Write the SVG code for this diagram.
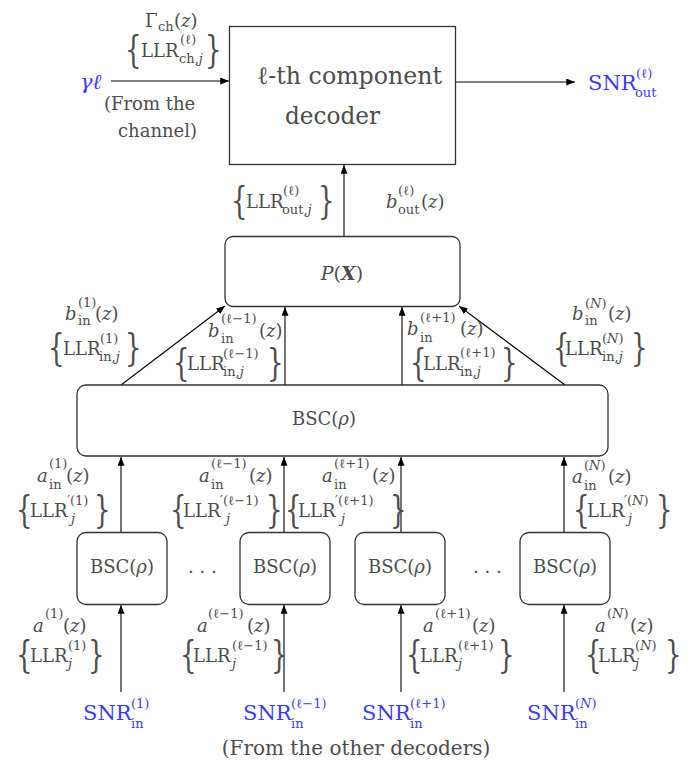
<svg xmlns="http://www.w3.org/2000/svg" width="695" height="764" viewBox="0 0 695 764" font-family="'DejaVu Serif', serif">
<style>
.m{font-family:'DejaVu Serif',serif;fill:#4d4d4d;font-size:18px}
.s{font-size:13px}
.it{font-style:italic}
.bl{fill:#3b3bf8}
.br{font-size:26px}
.box{fill:#fff;stroke:#333;stroke-width:1.3}
.ln{stroke:#000;stroke-width:1.1;fill:none;marker-end:url(#ah)}
</style>
<defs>
<marker id="ah" viewBox="0 0 10 8" refX="10" refY="4" markerUnits="userSpaceOnUse" markerWidth="9" markerHeight="7" orient="auto">
<path d="M0,0 L10,4 L0,8 z" fill="#000"/>
</marker>
</defs>
<rect width="695" height="764" fill="#fff"/>

<g id="connectors">
<line class="ln" x1="111" y1="81" x2="229" y2="81"/>
<line class="ln" x1="456" y1="82" x2="575" y2="82"/>
<line class="ln" x1="344" y1="236" x2="344" y2="165"/>
<line class="ln" x1="121" y1="385" x2="225" y2="306"/>
<line class="ln" x1="285" y1="385" x2="285" y2="307"/>
<line class="ln" x1="402" y1="385" x2="402" y2="307"/>
<line class="ln" x1="565" y1="385" x2="459" y2="306"/>
<line class="ln" x1="121" y1="532" x2="121" y2="457"/>
<line class="ln" x1="284" y1="532" x2="284" y2="457"/>
<line class="ln" x1="401" y1="532" x2="401" y2="457"/>
<line class="ln" x1="564" y1="532" x2="564" y2="457"/>
<line class="ln" x1="121" y1="692" x2="121" y2="605"/>
<line class="ln" x1="284" y1="692" x2="284" y2="605"/>
<line class="ln" x1="401" y1="692" x2="401" y2="605"/>
<line class="ln" x1="564" y1="692" x2="564" y2="605"/>
</g>

<g id="decoder">
<rect class="box" x="229.5" y="26.5" width="226" height="138"/>
<text class="m" x="257" y="84" textLength="185" lengthAdjust="spacingAndGlyphs" style="font-size:25px">ℓ-th component</text>
<text class="m" x="285" y="124" textLength="95" lengthAdjust="spacingAndGlyphs" style="font-size:25px">decoder</text>
</g>

<g id="px">
<rect class="box" x="225" y="236.5" width="235" height="70" rx="8"/>
<text class="m" x="342" y="280" text-anchor="middle" style="font-size:19px"><tspan class="it">P</tspan>(<tspan style="font-style:italic;font-weight:bold">X</tspan>)</text>
</g>

<g id="bsc-main">
<rect class="box" x="77" y="385" width="531" height="71" rx="9"/>
<text class="m" x="292" y="425">BSC(<tspan class="it">ρ</tspan>)</text>
</g>

<g id="bsc-1">
<rect class="box" x="77" y="532.5" width="90" height="72" rx="9"/>
<text class="m" x="122" y="573" text-anchor="middle">BSC(<tspan class="it">ρ</tspan>)</text>
</g>
<g id="bsc-2">
<rect class="box" x="240" y="532.5" width="90" height="72" rx="9"/>
<text class="m" x="285" y="573" text-anchor="middle">BSC(<tspan class="it">ρ</tspan>)</text>
</g>
<g id="bsc-3">
<rect class="box" x="355" y="532.5" width="90" height="72" rx="9"/>
<text class="m" x="400" y="573" text-anchor="middle">BSC(<tspan class="it">ρ</tspan>)</text>
</g>
<g id="bsc-4">
<rect class="box" x="520" y="532.5" width="90" height="72" rx="9"/>
<text class="m" x="565" y="573" text-anchor="middle">BSC(<tspan class="it">ρ</tspan>)</text>
</g>

<g id="dots">
<text class="m" x="188" y="573">. . .</text>
<text class="m" x="473" y="573">. . .</text>
</g>

<g id="labels">
<text class="m" x="145" y="27">Γ</text>
<text class="m s" x="158" y="31">ch</text>
<text class="m" x="174" y="27">(<tspan class="it">z</tspan>)</text>
<text class="m br" transform="translate(125,61.5) scale(1,1.4)">{</text>
<text class="m" x="141" y="57">LLR</text>
<text class="m s" x="180" y="44">(ℓ)</text>
<text class="m s" x="179" y="63">ch,<tspan class="it">j</tspan></text>
<text class="m br" transform="translate(205,61.5) scale(1,1.4)">}</text>
<text class="m it bl" x="80" y="89" style="font-size:21px">γℓ</text>
<text class="m" x="104" y="110">(From the</text>
<text class="m" x="118" y="137">channel)</text>

<text class="m bl" x="588" y="90" style="font-size:21px">SNR</text>
<text class="m s bl" x="636" y="78">(ℓ)</text>
<text class="m s bl" x="635" y="97">out</text>

<text class="m br" transform="translate(231,212.5) scale(1,1.4)">{</text>
<text class="m" x="246" y="208">LLR</text>
<text class="m s" x="283" y="195">(ℓ)</text>
<text class="m s" x="282" y="214">out,<tspan class="it">j</tspan></text>
<text class="m br" transform="translate(318,212.5) scale(1,1.4)">}</text>
<text class="m it" x="386" y="208">b</text>
<text class="m s" x="398" y="195">(ℓ)</text>
<text class="m s" x="398" y="214">out</text>
<text class="m" x="421" y="208">(<tspan class="it">z</tspan>)</text>

<text class="m it" x="65" y="320">b</text>
<text class="m s" x="78" y="307">(1)</text>
<text class="m s" x="78" y="325">in</text>
<text class="m" x="95" y="320">(<tspan class="it">z</tspan>)</text>
<text class="m br" transform="translate(48,359.5) scale(1,1.4)">{</text>
<text class="m" x="63" y="355">LLR</text>
<text class="m s" x="100" y="343">(1)</text>
<text class="m s" x="99" y="361">in,<tspan class="it">j</tspan></text>
<text class="m br" transform="translate(125,359.5) scale(1,1.4)">}</text>

<text class="m it" x="208" y="337">b</text>
<text class="m s" x="221" y="323">(ℓ−1)</text>
<text class="m s" x="221" y="343">in</text>
<text class="m" x="259" y="337">(<tspan class="it">z</tspan>)</text>
<text class="m br" transform="translate(173,374.5) scale(1,1.4)">{</text>
<text class="m" x="187" y="370">LLR</text>
<text class="m s" x="223" y="358">(ℓ−1)</text>
<text class="m s" x="223" y="376">in,<tspan class="it">j</tspan></text>
<text class="m br" transform="translate(267,374.5) scale(1,1.4)">}</text>

<text class="m it" x="407" y="335">b</text>
<text class="m s" x="420" y="322">(ℓ+1)</text>
<text class="m s" x="420" y="342">in</text>
<text class="m" x="460" y="335">(<tspan class="it">z</tspan>)</text>
<text class="m br" transform="translate(410,374.5) scale(1,1.4)">{</text>
<text class="m" x="423" y="370">LLR</text>
<text class="m s" x="460" y="357">(ℓ+1)</text>
<text class="m s" x="460" y="376">in,<tspan class="it">j</tspan></text>
<text class="m br" transform="translate(501,374.5) scale(1,1.4)">}</text>

<text class="m it" x="572" y="320">b</text>
<text class="m s" x="585" y="308">(<tspan class="it">N</tspan>)</text>
<text class="m s" x="585" y="325">in</text>
<text class="m" x="608" y="320">(<tspan class="it">z</tspan>)</text>
<text class="m br" transform="translate(553,359.5) scale(1,1.4)">{</text>
<text class="m" x="565" y="355">LLR</text>
<text class="m s" x="602" y="343">(<tspan class="it">N</tspan>)</text>
<text class="m s" x="602" y="361">in,<tspan class="it">j</tspan></text>
<text class="m br" transform="translate(631,359.5) scale(1,1.4)">}</text>

<text class="m it" x="37" y="482">a</text>
<text class="m s" x="49" y="468">(1)</text>
<text class="m s" x="49" y="489">in</text>
<text class="m" x="66" y="482">(<tspan class="it">z</tspan>)</text>
<text class="m br" transform="translate(16,521.5) scale(1,1.4)">{</text>
<text class="m" x="30" y="517">LLR</text>
<text class="m s" x="67" y="505">′(1)</text>
<text class="m s it" x="71" y="523">j</text>
<text class="m br" transform="translate(94,521.5) scale(1,1.4)">}</text>

<text class="m it" x="199" y="482">a</text>
<text class="m s" x="211" y="468">(ℓ−1)</text>
<text class="m s" x="211" y="489">in</text>
<text class="m" x="249" y="482">(<tspan class="it">z</tspan>)</text>
<text class="m br" transform="translate(170,521.5) scale(1,1.4)">{</text>
<text class="m" x="183" y="517">LLR</text>
<text class="m s" x="220" y="505">′(ℓ−1)</text>
<text class="m s it" x="226" y="523">j</text>
<text class="m br" transform="translate(266,521.5) scale(1,1.4)">}</text>

<text class="m it" x="322" y="482">a</text>
<text class="m s" x="334" y="468">(ℓ+1)</text>
<text class="m s" x="334" y="489">in</text>
<text class="m" x="372" y="482">(<tspan class="it">z</tspan>)</text>
<text class="m br" transform="translate(285,521.5) scale(1,1.4)">{</text>
<text class="m" x="298" y="517">LLR</text>
<text class="m s" x="335" y="505">′(ℓ+1)</text>
<text class="m s it" x="341" y="523">j</text>
<text class="m br" transform="translate(390,521.5) scale(1,1.4)">}</text>

<text class="m it" x="572" y="483">a</text>
<text class="m s" x="584" y="470">(<tspan class="it">N</tspan>)</text>
<text class="m s" x="584" y="490">in</text>
<text class="m" x="608" y="483">(<tspan class="it">z</tspan>)</text>
<text class="m br" transform="translate(573,521.5) scale(1,1.4)">{</text>
<text class="m" x="587" y="517">LLR</text>
<text class="m s" x="624" y="505">′(<tspan class="it">N</tspan>)</text>
<text class="m s it" x="628" y="523">j</text>
<text class="m br" transform="translate(656,521.5) scale(1,1.4)">}</text>

<text class="m it" x="33" y="632">a</text>
<text class="m s" x="45" y="618">(1)</text>
<text class="m" x="63" y="632">(<tspan class="it">z</tspan>)</text>
<text class="m br" transform="translate(16,666.5) scale(1,1.4)">{</text>
<text class="m" x="30" y="662">LLR</text>
<text class="m s" x="68" y="650">(1)</text>
<text class="m s it" x="68" y="668">j</text>
<text class="m br" transform="translate(88,666.5) scale(1,1.4)">}</text>

<text class="m it" x="197" y="632">a</text>
<text class="m s" x="208" y="618">(ℓ−1)</text>
<text class="m" x="247" y="632">(<tspan class="it">z</tspan>)</text>
<text class="m br" transform="translate(180,666.5) scale(1,1.4)">{</text>
<text class="m" x="193" y="662">LLR</text>
<text class="m s" x="232" y="650">(ℓ−1)</text>
<text class="m s it" x="232" y="668">j</text>
<text class="m br" transform="translate(271,666.5) scale(1,1.4)">}</text>

<text class="m it" x="423" y="632">a</text>
<text class="m s" x="435" y="618">(ℓ+1)</text>
<text class="m" x="472" y="632">(<tspan class="it">z</tspan>)</text>
<text class="m br" transform="translate(406,666.5) scale(1,1.4)">{</text>
<text class="m" x="420" y="662">LLR</text>
<text class="m s" x="458" y="650">(ℓ+1)</text>
<text class="m s it" x="458" y="668">j</text>
<text class="m br" transform="translate(498,666.5) scale(1,1.4)">}</text>

<text class="m it" x="595" y="632">a</text>
<text class="m s" x="607" y="618">(<tspan class="it">N</tspan>)</text>
<text class="m" x="630" y="632">(<tspan class="it">z</tspan>)</text>
<text class="m br" transform="translate(585,666.5) scale(1,1.4)">{</text>
<text class="m" x="598" y="662">LLR</text>
<text class="m s" x="635" y="650">(<tspan class="it">N</tspan>)</text>
<text class="m s it" x="635" y="668">j</text>
<text class="m br" transform="translate(665,666.5) scale(1,1.4)">}</text>

<text class="m bl" x="83" y="720" style="font-size:21px">SNR</text>
<text class="m s bl" x="131" y="708">(1)</text>
<text class="m s bl" x="131" y="728">in</text>
<text class="m bl" x="243" y="720" style="font-size:21px">SNR</text>
<text class="m s bl" x="291" y="708">(ℓ−1)</text>
<text class="m s bl" x="291" y="728">in</text>
<text class="m bl" x="362" y="720" style="font-size:21px">SNR</text>
<text class="m s bl" x="410" y="708">(ℓ+1)</text>
<text class="m s bl" x="410" y="728">in</text>
<text class="m bl" x="527" y="720" style="font-size:21px">SNR</text>
<text class="m s bl" x="575" y="708">(<tspan class="it">N</tspan>)</text>
<text class="m s bl" x="575" y="728">in</text>

<text class="m" x="356" y="755" text-anchor="middle" style="font-size:20px">(From the other decoders)</text>
</g>
</svg>
